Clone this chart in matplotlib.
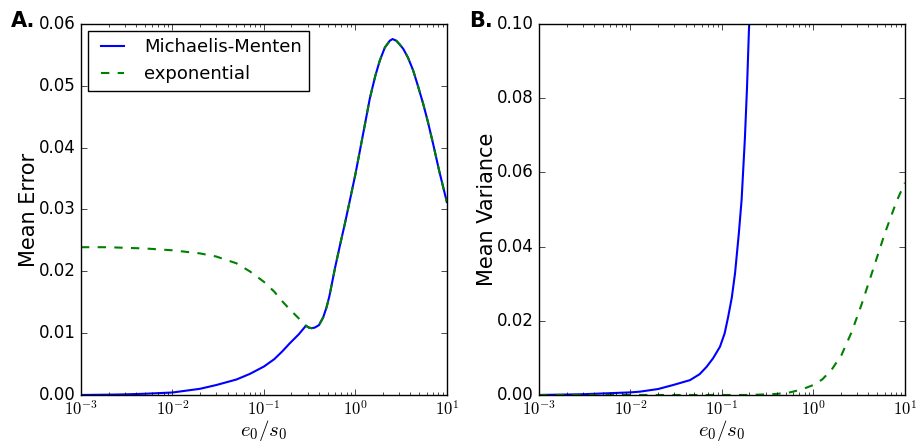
import numpy as np
import matplotlib
matplotlib.use('Agg')
from matplotlib import pyplot as plt
from matplotlib import ticker

plt.style.use('classic')
plt.rcParams['figure.facecolor'] = 'white'
plt.rcParams['savefig.facecolor'] = 'white'

# panel A: mean error
err_x = [0.001, 0.002, 0.003, 0.005, 0.01, 0.02, 0.03, 0.05, 0.07, 0.1, 0.13, 0.16, 0.19,
         0.24, 0.288, 0.31, 0.332, 0.36, 0.40, 0.445, 0.484, 0.52, 0.55, 0.60, 0.678, 0.77,
         0.871, 1.0, 1.12, 1.28, 1.44, 1.65, 1.85, 2.1, 2.38, 2.55, 2.8, 3.05, 3.33, 3.75,
         4.28, 4.85, 5.51, 6.2, 7.08, 8.2, 10.0]
err_mm = [0.0, 0.00005, 0.0001, 0.0002, 0.0004, 0.0010, 0.0016, 0.0025, 0.0034, 0.0046,
          0.0058, 0.0071, 0.0083, 0.0098, 0.0112, 0.0109, 0.0108, 0.0109, 0.0113, 0.01257,
          0.01418, 0.0160, 0.0178, 0.0206, 0.0242, 0.0278, 0.0315, 0.0357, 0.0395, 0.0440,
          0.0480, 0.0516, 0.0541, 0.0562, 0.0573, 0.05757, 0.0573, 0.0567, 0.0560, 0.0546,
          0.0525, 0.0499, 0.0471, 0.0442, 0.0406, 0.0364, 0.0312]
err_exp = [0.0239, 0.0239, 0.0238, 0.0237, 0.0234, 0.0229, 0.0224, 0.0213, 0.0200, 0.0183,
           0.0167, 0.0151, 0.0139, 0.0124, 0.0112, 0.0109, 0.0108, 0.0109, 0.0113, 0.01257,
           0.01418, 0.0160, 0.0178, 0.0206, 0.0242, 0.0278, 0.0315, 0.0357, 0.0395, 0.0440,
           0.0480, 0.0516, 0.0541, 0.0562, 0.0573, 0.05757, 0.0573, 0.0567, 0.0560, 0.0546,
           0.0525, 0.0499, 0.0471, 0.0442, 0.0406, 0.0364, 0.0312]

# panel B: mean variance
var_mm_x = [0.001, 0.003, 0.01, 0.0127, 0.02, 0.0294, 0.0447, 0.057, 0.068, 0.08, 0.0951,
            0.107, 0.117, 0.128, 0.139, 0.153, 0.164, 0.178, 0.188, 0.197, 0.205]
var_mm = [0.0, 0.0002, 0.0007, 0.0009, 0.0016, 0.0027, 0.0040, 0.0056, 0.0076, 0.0099,
          0.0130, 0.0166, 0.0211, 0.0262, 0.0328, 0.0436, 0.0526, 0.0690, 0.0830, 0.0980,
          0.1080]
var_exp_x = [0.001, 0.01, 0.1, 0.2, 0.26, 0.4, 0.553, 0.75, 1.0, 1.25, 1.58, 2.03, 2.62,
             3.37, 4.51, 6.04, 8.11, 10.0]
var_exp = [0.0, 0.0, 0.0, 0.0, 0.0001, 0.0003, 0.0007, 0.0015, 0.0027, 0.0042, 0.0068,
           0.0108, 0.0170, 0.0245, 0.0340, 0.0436, 0.0522, 0.0572]

fig = plt.figure(figsize=(9.17, 4.43), dpi=100)
ax1 = fig.add_axes([0.0883, 0.1084, 0.399, 0.8374])
ax2 = fig.add_axes([0.5878, 0.1084, 0.399, 0.8374])

ax1.plot(err_x, err_mm, color='b', lw=1.5, label='Michaelis-Menten')
ax1.plot(err_x, err_exp, color='g', lw=1.5, ls='--', label='exponential')
ax1.set_ylim(0, 0.06)
ax1.set_ylabel('Mean Error', fontsize=15, labelpad=0)
ax1.legend(loc='upper left', fontsize=13, handlelength=1.9, handletextpad=0.8,
           borderaxespad=0.4, fancybox=False)

ax2.plot(var_mm_x, var_mm, color='b', lw=1.5)
ax2.plot(var_exp_x, var_exp, color='g', lw=1.5, ls='--')
ax2.set_ylim(0, 0.1)
ax2.set_ylabel('Mean Variance', fontsize=15, labelpad=0)

for ax in (ax1, ax2):
    ax.set_xscale('log')
    ax.set_xlim(1e-3, 10)
    ax.xaxis.set_major_formatter(ticker.FuncFormatter(
        lambda v, pos: r'$10^{%d}$' % round(np.log10(v))))
    ax.set_xlabel(r'$e_0/s_0$', fontsize=15, labelpad=-1)
    ax.tick_params(labelsize=12)

fig.text(0.012, 0.94, 'A.', fontsize=15, fontweight='bold')
fig.text(0.512, 0.94, 'B.', fontsize=15, fontweight='bold')

fig.savefig('out.png', dpi=100)
